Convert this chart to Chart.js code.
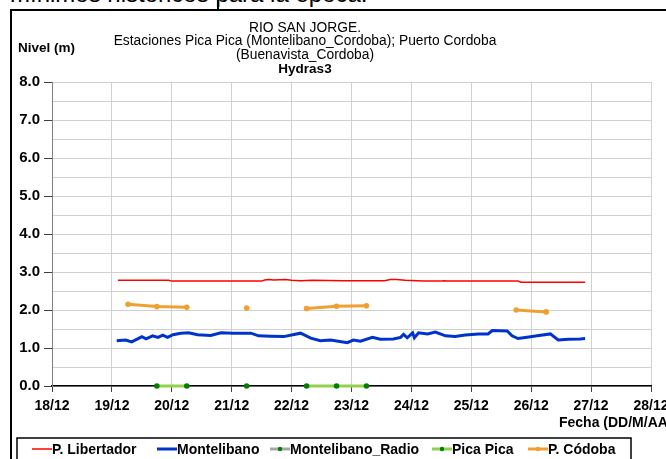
<!DOCTYPE html>
<html>
<head>
<meta charset="utf-8">
<script src="https://cdn.jsdelivr.net/npm/chart.js@4.4.1/dist/chart.umd.min.js"></script>
<style>
  html, body { margin: 0; padding: 0; background: #fff; width: 666px; height: 459px; overflow: hidden; }
  #note { position: absolute; left: 10px; top: -20px; font: 24px "Liberation Sans", Arial, sans-serif; white-space: nowrap; color: #000; }
  #cursor { position: absolute; left: 217px; top: 0; width: 2px; height: 10px; background: #000; }
  #box { position: absolute; left: 10px; top: 9px; width: 700px; height: 470px; border-left: 2px solid #000; border-top: 2px solid #000; }
  #chart { position: absolute; left: 0; top: 0; }
</style>
</head>
<body>
<div id="note">mínimos históricos para la época.</div>
<div id="cursor"></div>
<div id="box"><canvas id="chart" width="690" height="460"></canvas></div>
<script>
// tick labels
const dayTicks = ["18/12", "19/12", "20/12", "21/12", "22/12", "23/12", "24/12", "25/12", "26/12", "27/12", "28/12"];

// P. Libertador
const libertadorDays = [19.10, 19.95, 20.00, 21.50, 21.55, 21.62, 21.70, 21.90, 22.00, 22.15, 22.35, 22.85, 23.55, 23.65, 23.75, 23.90, 24.20, 24.50, 24.53, 24.60, 25.78, 25.83, 26.90];
const libertadorLevels = [2.78, 2.78, 2.76, 2.76, 2.79, 2.80, 2.79, 2.80, 2.78, 2.77, 2.78, 2.77, 2.77, 2.80, 2.80, 2.78, 2.76, 2.76, 2.77, 2.76, 2.76, 2.73, 2.73];

// Montelibano
const montelibanoDays = [19.08, 19.23, 19.33, 19.43, 19.50, 19.57, 19.68, 19.77, 19.85, 19.93,
  20.02, 20.15, 20.28, 20.43, 20.65, 20.82, 21.03, 21.32, 21.45, 21.65,
  21.87, 22.02, 22.15, 22.32, 22.48, 22.65, 22.78, 22.93, 23.03, 23.15,
  23.35, 23.48, 23.70, 23.82, 23.87, 23.93, 24.02, 24.05, 24.12, 24.27,
  24.40, 24.57, 24.73, 24.90, 25.12, 25.28, 25.35, 25.60, 25.68, 25.78,
  25.93, 26.10, 26.32, 26.45, 26.62, 26.82, 26.90];
const montelibanoLevels = [1.19, 1.21, 1.16, 1.24, 1.30, 1.24, 1.32, 1.28, 1.34, 1.28,
  1.35, 1.39, 1.40, 1.35, 1.33, 1.40, 1.39, 1.39, 1.32, 1.31,
  1.30, 1.35, 1.39, 1.26, 1.19, 1.21, 1.18, 1.14, 1.21, 1.18,
  1.28, 1.23, 1.24, 1.28, 1.36, 1.27, 1.40, 1.27, 1.40, 1.37,
  1.42, 1.32, 1.30, 1.34, 1.37, 1.37, 1.46, 1.45, 1.32, 1.25,
  1.28, 1.32, 1.37, 1.21, 1.23, 1.24, 1.25];

// Pica Pica (null = no reading)
const picaDays = [19.75, 20.25, 20.75, 21.25, 21.75, 22.25, 22.75, 23.25];
const picaLevels = [0, 0, null, 0, null, 0, 0, 0];

// P. Córdoba
const cordobaDays = [19.27, 19.75, 20.25, 20.75, 21.25, 21.75, 22.25, 22.75, 23.25, 24.50, 25.75, 26.25];
const cordobaLevels = [2.15, 2.09, 2.07, null, 2.05, null, 2.04, 2.10, 2.11, null, 2.00, 1.95];

const FONT = '"Liberation Sans", Arial, sans-serif';

function points(days, levels) {
  return days.map((d, i) => ({ x: d, y: levels[i] }));
}

// titles, axis names and the boxed legend
const decor = {
  id: "decor",
  afterDraw(chart) {
    const ctx = chart.ctx;
    ctx.save();
    ctx.fillStyle = "#000";
    ctx.textBaseline = "middle";
    ctx.textAlign = "center";
    ctx.font = "13.8px " + FONT;
    ctx.fillText("RIO SAN JORGE.", 293, 17);
    ctx.fillText("Estaciones Pica Pica (Montelibano_Cordoba); Puerto Cordoba", 293, 30);
    ctx.fillText("(Buenavista_Cordoba)", 293, 44);
    ctx.font = "bold 13.5px " + FONT;
    ctx.fillText("Hydras3", 293, 58);
    ctx.textAlign = "left";
    ctx.font = "bold 13.5px " + FONT;
    ctx.fillText("Nivel (m)", 6, 37);
    ctx.font = "bold 14px " + FONT;
    ctx.fillText("Fecha (DD/M/AA)", 547, 412);

    // legend
    ctx.strokeStyle = "#000";
    ctx.lineWidth = 1.5;
    ctx.strokeRect(5, 427, 614, 60);
    const starts = [20, 145, 258, 420, 516];
    ctx.font = "bold 14px " + FONT;
    chart.data.datasets.forEach((ds, i) => {
      const x = starts[i], y = 438;
      ctx.strokeStyle = ds.borderColor;
      ctx.lineWidth = ds.borderWidth;
      ctx.beginPath();
      ctx.moveTo(x, y);
      ctx.lineTo(x + 20, y);
      ctx.stroke();
      if (ds.pointRadius > 0) {
        ctx.fillStyle = ds.pointBackgroundColor;
        ctx.beginPath();
        ctx.arc(x + 10, y, 2.2, 0, Math.PI * 2);
        ctx.fill();
      }
      ctx.fillStyle = "#000";
      ctx.fillText(ds.label, x + 20, y + 1);
    });
    ctx.restore();
  }
};

new Chart(document.getElementById("chart"), {
  type: "line",
  data: {
    datasets: [
      {
        label: "P. Libertador",
        data: points(libertadorDays, libertadorLevels),
        borderColor: "#ff0000",
        borderWidth: 1.5,
        pointRadius: 0
      },
      {
        label: "Montelibano",
        data: points(montelibanoDays, montelibanoLevels),
        borderColor: "#0033cc",
        borderWidth: 3,
        pointRadius: 0
      },
      {
        label: "Montelibano_Radio",
        data: [],
        borderColor: "#a6a6a6",
        borderWidth: 3,
        pointRadius: 2.5,
        pointBackgroundColor: "#008000",
        pointBorderWidth: 0
      },
      {
        label: "Pica Pica",
        data: points(picaDays, picaLevels),
        borderColor: "#92d050",
        borderWidth: 3,
        pointRadius: 2.8,
        pointBackgroundColor: "#008000",
        pointBorderColor: "#008000",
        pointBorderWidth: 0,
        clip: false
      },
      {
        label: "P. Códoba",
        data: points(cordobaDays, cordobaLevels),
        borderColor: "#f0a030",
        borderWidth: 3,
        pointRadius: 2.8,
        pointBackgroundColor: "#f0a030",
        pointBorderWidth: 0
      }
    ]
  },
  options: {
    responsive: false,
    animation: false,
    spanGaps: false,
    layout: { padding: { left: 0, top: 71, right: 51, bottom: 36 } },
    plugins: {
      legend: { display: false },
      tooltip: { enabled: false }
    },
    scales: {
      x: {
        type: "linear",
        min: 18,
        max: 28,
        afterFit: (s) => { s.height = 49; },
        grid: { color: "#d0d0d0", tickColor: "#404040", tickLength: 6 },
        border: { color: "#000", width: 1.5 },
        ticks: {
          stepSize: 1,
          autoSkip: false,
          maxRotation: 0,
          padding: 6,
          color: "#000",
          font: { family: FONT, size: 14, weight: "bold" },
          callback: (v) => dayTicks[Math.round(v - 18)]
        }
      },
      y: {
        min: 0,
        max: 8,
        afterFit: (s) => { s.width = 40; },
        grid: {
          color: "#d0d0d0",
          tickLength: 8,
          tickColor: (c) => (c.tick && Number.isInteger(c.tick.value) ? "#404040" : "rgba(0,0,0,0)")
        },
        border: { color: "#808080", width: 1 },
        ticks: {
          stepSize: 0.5,
          autoSkip: false,
          padding: 4,
          color: "#000",
          font: { family: FONT, size: 15, weight: "bold" },
          callback: (v) => (Number.isInteger(v) ? v.toFixed(1) : "")
        }
      }
    }
  },
  plugins: [decor]
});
</script>
</body>
</html>
